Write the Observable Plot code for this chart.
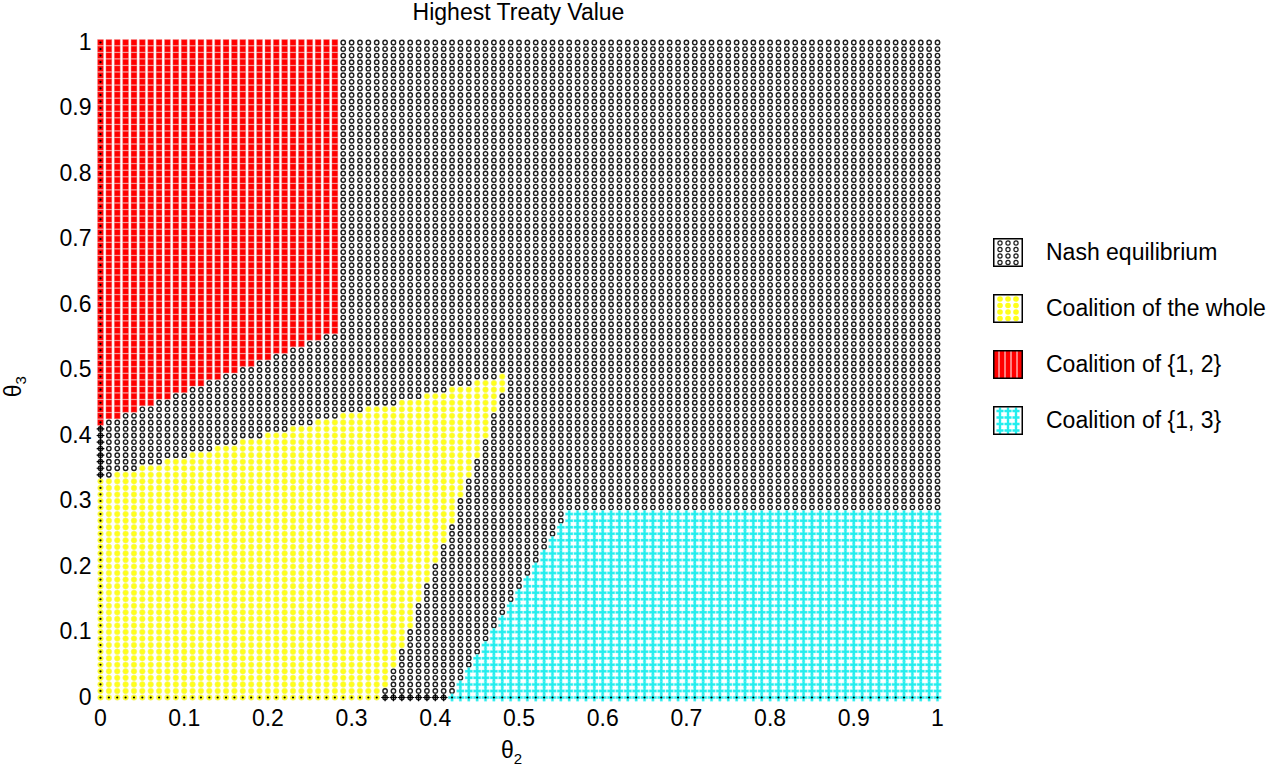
<!DOCTYPE html>
<html>
<head>
<meta charset="utf-8">
<script src="https://cdn.jsdelivr.net/npm/d3@7"></script>
<script src="https://cdn.jsdelivr.net/npm/@observablehq/plot@0.6"></script>
<style>
  body { margin: 0; background: #fff; font-family: "Liberation Sans", Arial, sans-serif; }
  #wrap { position: relative; width: 1288px; height: 782px; overflow: hidden; }
  #chart { position: absolute; left: 0; top: 0; }
  .title { position: absolute; left: 0; width: 1037px; text-align: center; top: -1px; font-size: 23px; color: #000; }
  .xlab { position: absolute; left: 501px; top: 737px; font-size: 23px; }
  .ylab { position: absolute; left: 4px; top: 372px; font-size: 23px; transform: rotate(-90deg); transform-origin: center; }
  .legend { position: absolute; left: 993px; top: 224px; }
  .item { display: flex; align-items: center; height: 56px; }
  .item svg { display: block; }
  .item span { margin-left: 23px; font-size: 23px; color: #000; }
  sub { font-size: 15px; }
</style>
</head>
<body>
<div id="wrap">
  <div id="chart"></div>
  <div class="title">Highest Treaty Value</div>
  <div class="xlab">θ<sub>2</sub></div>
  <div class="ylab">θ<sub>3</sub></div>
  <div class="legend" id="legend"></div>
</div>
<script>
// ---- data ----
const gridValues = d3.range(0, 101).map(i => i / 100);          // θ grid, step 0.01
const tickValues = [0, 0.1, 0.2, 0.3, 0.4, 0.5, 0.6, 0.7, 0.8, 0.9, 1];
const tickLabels = ["0", "0.1", "0.2", "0.3", "0.4", "0.5", "0.6", "0.7", "0.8", "0.9", "1"];
const categories = ["Nash equilibrium", "Coalition of the whole", "Coalition of {1, 2}", "Coalition of {1, 3}"];
// region boundaries (θ2, θ3)
const region12 = [[-0.005, 0.415], [0.285, 0.5625], [0.285, 1.005], [-0.005, 1.005]];
const regionWhole = [[-0.005, -0.005], [0.335, -0.005], [0.49, 0.495], [-0.005, 0.335]];
const region13 = [[0.415, -0.005], [1.005, -0.005], [1.005, 0.285], [0.5625, 0.285]];

// ---- build grid table ----
const pts = [];
for (const x of gridValues) for (const y of gridValues) {
  let c = categories[0];
  if (d3.polygonContains(region12, [x, y])) c = categories[2];
  else if (d3.polygonContains(regionWhole, [x, y])) c = categories[1];
  else if (d3.polygonContains(region13, [x, y])) c = categories[3];
  pts.push({x, y, c, edge: x === 0 || y === 0});
}
const byCat = c => pts.filter(d => d.c === c);

const plot = Plot.plot({
  width: 1288,
  height: 782,
  marginLeft: 100,
  marginRight: 351,
  marginTop: 42,
  marginBottom: 85,
  style: {fontFamily: "Liberation Sans, Arial, sans-serif", fontSize: "23px", color: "#000", background: "#fff"},
  x: {domain: [0, 1], ticks: tickValues, tickFormat: (d, i) => tickLabels[i], tickSize: 0, tickPadding: 12, label: null},
  y: {domain: [0, 1], ticks: tickValues, tickFormat: (d, i) => tickLabels[i], tickSize: 0, tickPadding: 9, label: null},
  marks: [
    Plot.dot(byCat(categories[0]), {x: "x", y: "y", r: 2.2, stroke: "#1e1e1e", strokeWidth: 1.4, fill: "#fff"}),
    Plot.dot(byCat(categories[1]), {x: "x", y: "y", r: 2.8, fill: "#ffff1a", stroke: "#f4f47a", strokeWidth: 0.6}),
    Plot.dot(byCat(categories[2]), {x: "x", y: "y", symbol: "square", r: 3.3, fill: "#ff0000", stroke: "#f08080", strokeWidth: 0.4}),
    Plot.dot(byCat(categories[3]), {x: "x", y: "y", symbol: "cross", r: 3.1, fill: "#22eeee", stroke: "#7ff5f5", strokeWidth: 0.4}),
    Plot.dot(pts.filter(d => d.edge && d.c === categories[0]), {x: "x", y: "y", symbol: "plus", r: 2.6, stroke: "#000", strokeWidth: 1.2}),
    Plot.dot(pts.filter(d => d.edge), {x: "x", y: "y", r: 1.1, fill: "#000"})
  ]
});
document.getElementById("chart").appendChild(plot);

// ---- legend swatches ----
const legend = d3.select("#legend");
const swatch = [
  {fill: "#fff", stroke: "#1e1e1e", kind: "circle"},
  {fill: "#ffff1a", stroke: "#f4f47a", kind: "yellow"},
  {fill: "#ff0000", stroke: "#f08080", kind: "square"},
  {fill: "#22eeee", stroke: "#7ff5f5", kind: "cross"}
];
categories.forEach((c, i) => {
  const item = legend.append("div").attr("class", "item");
  const svg = item.append("svg").attr("width", 30).attr("height", 29);
  const g = svg.append("g");
  const s = swatch[i];
  if (i === 2) g.append("rect").attr("x", 1).attr("y", 1).attr("width", 28).attr("height", 27).attr("fill", "#ff0000");
  for (let cx = 7; cx <= 24; cx += 8) for (let cy = 5; cy <= 25; cy += 6.5) {
    if (s.kind === "circle") g.append("circle").attr("cx", cx).attr("cy", cy).attr("r", 2.1).attr("fill", "#fff").attr("stroke", s.stroke).attr("stroke-width", 1.2);
    else if (s.kind === "yellow") g.append("circle").attr("cx", cx).attr("cy", cy).attr("r", 2.8).attr("fill", s.fill);
    else if (s.kind === "cross") g.append("path").attr("d", d3.symbol(d3.symbolCross, 28)()).attr("transform", `translate(${cx},${cy})`).attr("fill", s.fill);
  }
  if (i === 2) for (let cx = 6; cx <= 26; cx += 6) g.append("line").attr("x1", cx).attr("x2", cx).attr("y1", 1).attr("y2", 28).attr("stroke", "#fff").attr("stroke-width", 1);
  svg.append("rect").attr("x", 0.75).attr("y", 0.75).attr("width", 28.5).attr("height", 27.5).attr("fill", "none").attr("stroke", "#000").attr("stroke-width", 1.5);
  item.append("span").text(c);
});
</script>
</body>
</html>
